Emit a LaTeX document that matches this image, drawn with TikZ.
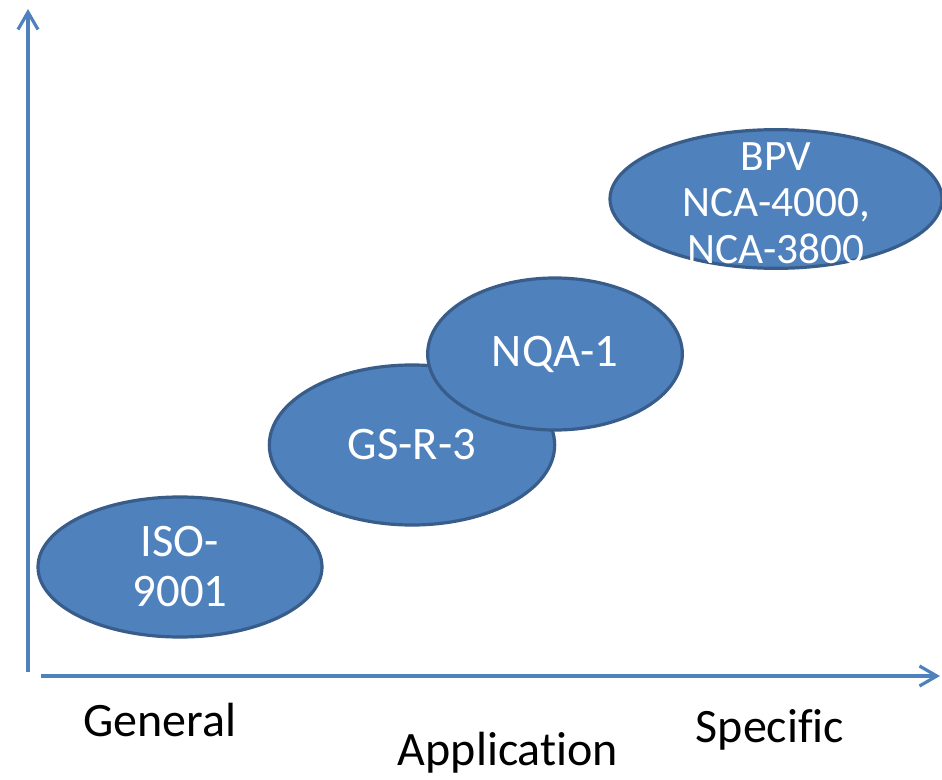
\documentclass[tikz,border=0pt]{standalone}
\usepackage{fontspec}
\setmainfont{Carlito}[RawFeature=-liga]
\usetikzlibrary{shapes.geometric,arrows.meta}
\definecolor{AxBlue}{HTML}{4F81BD}
\definecolor{EllFill}{HTML}{4F81BD}
\definecolor{EllLine}{HTML}{385D8A}

\tikzset{
  axis/.style={AxBlue,line width=2.4pt,-{Straight Barb[length=13pt,width=15pt,line width=2.4pt]}},
  stdell/.style={ellipse,draw=EllLine,fill=EllFill,line width=2.4pt,inner sep=0pt},
  elltext/.style={text=white,align=center,inner sep=0pt,font=\fontsize{35}{37.5}\selectfont},
  axlabel/.style={font=\fontsize{36}{44}\selectfont,text=black}
}

\begin{document}
\begin{tikzpicture}[x=0.75pt,y=-0.75pt]
\useasboundingbox[fill=white] (0,0) rectangle (942,780);
% axes
\coordinate (yfoot) at (28,672);
\coordinate (ytip) at (28,9);
\coordinate (xfoot) at (41,676);
\coordinate (xtip) at (940,676);
\draw[axis] (yfoot) -- (ytip);
\draw[axis] (xfoot) -- (xtip);
% standards
\node[stdell,minimum width=213pt,minimum height=105pt] (iso) at (180,567) {};
\node[elltext] at (iso) {ISO-\\9001};
\node[stdell,minimum width=214pt,minimum height=120pt] (gsr) at (412,445) {};
\node[elltext] at (gsr) {GS-R-3};
\node[stdell,minimum width=191pt,minimum height=114pt] (nqa) at (555,354) {};
\node[elltext] at (nqa) {NQA-1};
\node[stdell,minimum width=249pt,minimum height=104pt] (bpv) at (776,199) {};
\node[elltext,font=\fontsize{32.5}{35}\selectfont] at ([yshift=-3pt]bpv) {BPV\\NCA-4000,\\NCA-3800};
% labels
\node[axlabel] (general) at (160,720) {General};
\node[axlabel] (specific) at (770,730) {Specific};
\node[axlabel,anchor=base] (application) at (508,765) {Application};
\end{tikzpicture}
\end{document}
